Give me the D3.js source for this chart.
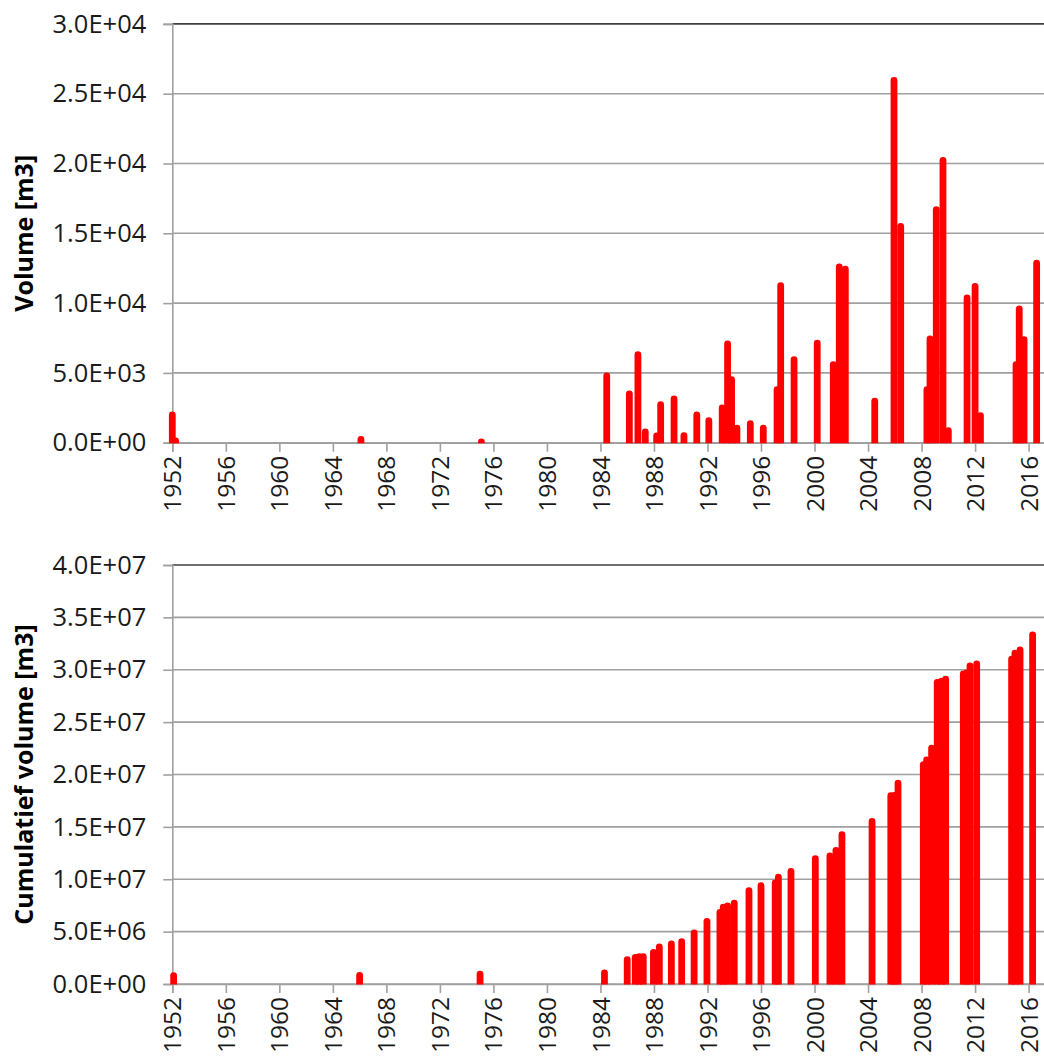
<!DOCTYPE html>
<html>
<head>
<meta charset="utf-8">
<script src="https://cdn.jsdelivr.net/npm/d3@7"></script>
<style>
  html, body { margin: 0; padding: 0; background: #fff; }
  svg { display: block; }
</style>
</head>
<body>
<svg id="chart" width="1044" height="1061"></svg>
<script>
// ---- Data (decimal years) ----
const volYears = [1952.0, 1952.25, 1966.1, 1975.1, 1984.47, 1986.16, 1986.8, 1987.35, 1988.2, 1988.5,
  1989.5, 1990.24, 1991.2, 1992.1, 1993.1, 1993.5, 1993.8, 1994.2, 1995.2, 1996.17,
  1997.2, 1997.47, 1998.47, 2000.2, 2001.4, 2001.85, 2002.3, 2004.5, 2005.94, 2006.44,
  2008.4, 2008.63, 2009.1, 2009.6, 2010.0, 2011.4, 2012.0, 2012.4, 2015.06, 2015.3,
  2015.66, 2016.6];
const volValues = [2000, 120, 230, 60, 4780, 3490, 6300, 770, 480, 2720,
  3130, 500, 2000, 1580, 2490, 7070, 4510, 1050, 1360, 1050,
  3800, 11250, 5950, 7140, 5590, 12590, 12440, 2970, 25960, 15500,
  3800, 7430, 16690, 20230, 860, 10370, 11200, 1930, 5590, 9580,
  7380, 12870];

const cumYears = [1952.1, 1966.0, 1975.0, 1984.3, 1986.0, 1986.6, 1986.9, 1987.2, 1987.96, 1988.4,
  1989.3, 1990.07, 1991.0, 1991.96, 1992.93, 1993.18, 1993.5, 1994.0, 1995.1, 1996.0,
  1997.06, 1997.3, 1998.24, 2000.06, 2001.15, 2001.6, 2002.05, 2004.3, 2005.7, 2005.95, 2006.24,
  2008.13, 2008.38, 2008.75, 2009.17, 2009.49, 2009.8, 2011.12, 2011.37, 2011.62, 2012.12,
  2014.73, 2014.98, 2015.36, 2016.3];
const cumValues = [0.79e6, 0.83e6, 0.95e6, 1.05e6, 2.32e6, 2.55e6, 2.6e6, 2.62e6, 3.02e6, 3.53e6,
  3.82e6, 4.04e6, 4.87e6, 5.98e6, 6.84e6, 7.34e6, 7.46e6, 7.72e6, 8.90e6, 9.38e6,
  9.64e6, 10.21e6, 10.75e6, 11.96e6, 12.24e6, 12.76e6, 14.25e6, 15.52e6, 17.97e6, 18.0e6, 19.18e6,
  20.93e6, 21.40e6, 22.52e6, 28.79e6, 28.9e6, 29.10e6, 29.61e6, 29.7e6, 30.37e6, 30.56e6,
  31.01e6, 31.58e6, 31.90e6, 33.33e6];

const xTickYears = [1952, 1956, 1960, 1964, 1968, 1972, 1976, 1980, 1984, 1988, 1992, 1996, 2000, 2004, 2008, 2012, 2016];
const volTicks = [0, 5000, 10000, 15000, 20000, 25000, 30000];
const cumTicks = [0, 5e6, 10e6, 15e6, 20e6, 25e6, 30e6, 35e6, 40e6];
const volTitle = "Volume [m3]";
const cumTitle = "Cumulatief volume [m3]";

// ---- Helpers ----
function sci(v) {
  const parts = v.toExponential(1).split("e");
  const e = parts[1];
  return parts[0] + "E" + e[0] + e.slice(1).padStart(2, "0");
}

const svg = d3.select("#chart");
const x = d3.scaleLinear().domain([1952, 2017.3]).range([172.3, 1046]);

function panel(opts) {
  const { top, bottom, ticks, years, values, title, id } = opts;
  const y = d3.scaleLinear().domain([0, ticks[ticks.length - 1]]).range([bottom, top]);
  const g = svg.append("g");

  // gridlines
  g.selectAll("line.grid").data(ticks.slice(0, -1)).join("line")
    .attr("x1", x.range()[0]).attr("x2", 1044)
    .attr("y1", d => y(d)).attr("y2", d => y(d))
    .attr("stroke", "#a0a0a0").attr("stroke-width", 1.6);
  // top border
  g.append("line")
    .attr("x1", x.range()[0]).attr("x2", 1044)
    .attr("y1", y(ticks[ticks.length - 1])).attr("y2", y(ticks[ticks.length - 1]))
    .attr("stroke", "#404040").attr("stroke-width", 1.6);

  // y axis
  const yAxis = d3.axisLeft(y).tickValues(ticks).tickFormat(sci).tickSize(9).tickPadding(17);
  const ya = g.append("g").attr("transform", `translate(${x.range()[0]},0)`).call(yAxis);
  ya.select(".domain").attr("stroke", "#a0a0a0").attr("stroke-width", 1.6);
  ya.selectAll(".tick line").attr("stroke", "#a0a0a0").attr("stroke-width", 1.6);
  ya.selectAll(".tick text").attr("font-family", "'Open Sans', sans-serif").attr("font-size", 25.5).attr("fill", "#1a1a1a");

  // x axis
  const xAxis = d3.axisBottom(x).tickValues(xTickYears).tickFormat(d3.format("d")).tickSize(9).tickPadding(0);
  const xa = g.append("g").attr("transform", `translate(0,${bottom})`).call(xAxis);
  xa.select(".domain").attr("stroke", "#a0a0a0").attr("stroke-width", 1.6);
  xa.selectAll(".tick line").attr("stroke", "#a0a0a0").attr("stroke-width", 1.6);
  xa.selectAll(".tick text")
    .attr("font-family", "'Open Sans', sans-serif").attr("font-size", 24.5).attr("fill", "#1a1a1a")
    .attr("transform", "rotate(-90)")
    .attr("text-anchor", "end")
    .attr("x", -13).attr("y", 0).attr("dy", "0.35em");

  // clip at baseline
  svg.append("defs").append("clipPath").attr("id", id)
    .append("rect").attr("x", 0).attr("y", 0).attr("width", 1044).attr("height", bottom + 0.5);

  // spikes
  const data = years.map((t, i) => ({ t, v: values[i] }));
  g.append("g").attr("clip-path", `url(#${id})`)
    .selectAll("line.spike").data(data).join("line")
    .attr("x1", d => x(d.t)).attr("x2", d => x(d.t))
    .attr("y1", y(0) + 4).attr("y2", d => y(d.v))
    .attr("stroke", "#ff0000").attr("stroke-width", 6.8).attr("stroke-linecap", "round");

  // title
  g.append("text")
    .attr("transform", `translate(33,${(top + bottom) / 2}) rotate(-90)`)
    .attr("text-anchor", "middle")
    .attr("font-family", "'Open Sans', sans-serif").attr("font-weight", "bold").attr("font-size", 25)
    .attr("fill", "#000")
    .text(title);
}

panel({ top: 23.9, bottom: 442.7, ticks: volTicks, years: volYears, values: volValues, title: volTitle, id: "clipTop" });
panel({ top: 565, bottom: 984, ticks: cumTicks, years: cumYears, values: cumValues, title: cumTitle, id: "clipBot" });
</script>
</body>
</html>
